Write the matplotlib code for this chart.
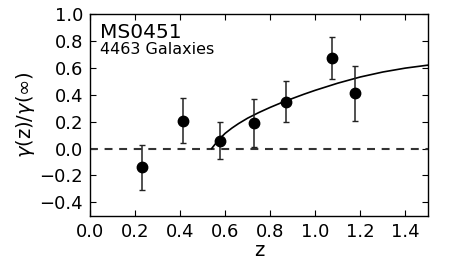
import matplotlib
matplotlib.use('Agg')
import matplotlib.pyplot as plt

# measured points
z_obs = [0.23, 0.415, 0.575, 0.728, 0.87, 1.074, 1.178]
ratio_obs = [-0.14, 0.207, 0.058, 0.187, 0.348, 0.675, 0.41]
err_lo = [0.17, 0.168, 0.138, 0.174, 0.153, 0.158, 0.203]
err_hi = [0.166, 0.166, 0.141, 0.179, 0.154, 0.152, 0.206]

# model curve
z_model = [0.54, 0.56, 0.58, 0.60, 0.63, 0.66, 0.70, 0.75, 0.80, 0.85,
           0.90, 0.95, 1.00, 1.10, 1.20, 1.30, 1.40, 1.50]
ratio_model = [0.0, 0.042, 0.08, 0.113, 0.152, 0.186, 0.226, 0.268, 0.306, 0.341,
               0.373, 0.404, 0.433, 0.486, 0.532, 0.569, 0.598, 0.62]

plt.rcParams['font.family'] = ['DejaVu Sans']
plt.rcParams['xtick.direction'] = 'in'
plt.rcParams['ytick.direction'] = 'in'

fig = plt.figure(figsize=(4.5, 2.7), dpi=100)
ax = fig.add_axes([0.2, 0.201, 0.751, 0.747])

ax.axhline(0, color='#333333', linestyle='--', linewidth=1.5, dashes=(3.8, 3.2))
ax.plot(z_model, ratio_model, 'k-', linewidth=1.2)
ax.errorbar(z_obs, ratio_obs, yerr=[err_lo, err_hi], fmt='o', color='k',
            ecolor='#222222', markersize=7.5, capsize=2.5, elinewidth=1.1,
            capthick=1.0)

ax.set_xlim(0, 1.5)
ax.set_ylim(-0.5, 1.0)
ax.set_xticks([0.0, 0.2, 0.4, 0.6, 0.8, 1.0, 1.2, 1.4])
ax.set_yticks([-0.4, -0.2, 0.0, 0.2, 0.4, 0.6, 0.8, 1.0])
ax.tick_params(labelsize=13, top=True, right=True, length=4, pad=5)
for s in ax.spines.values():
    s.set_linewidth(1.0)

ax.set_xlabel('z', fontsize=14, labelpad=0)
ax.set_ylabel(r'$\gamma$(z)/$\gamma$($\infty$)', fontsize=14, labelpad=2)

ax.text(0.03, 0.955, 'MS0451', transform=ax.transAxes, fontsize=14.5,
        va='top', ha='left')
ax.text(0.03, 0.86, '4463 Galaxies', transform=ax.transAxes, fontsize=11.5,
        va='top', ha='left')

fig.savefig('out.png', dpi=100)
